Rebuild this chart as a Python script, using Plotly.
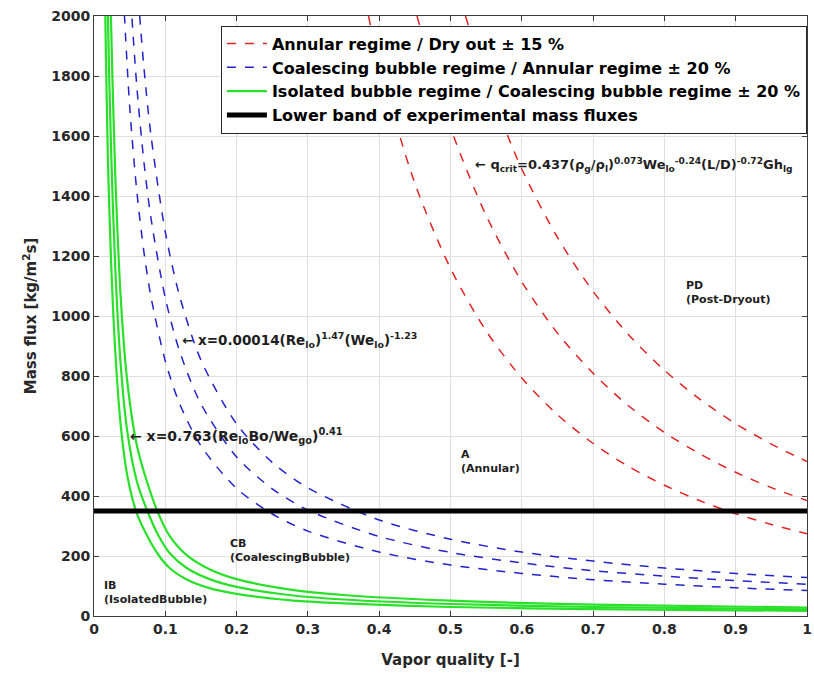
import plotly.graph_objects as go

# ---- Annular / Dry-out boundary (nominal and +/-15 %) ----
x_red_lo = [0.385, 0.40, 0.45, 0.50, 0.55, 0.60, 0.65, 0.70, 0.75, 0.80, 0.85, 0.90, 0.95, 1.00]
g_red_lo = [2000, 1843, 1442, 1159, 950, 793, 671, 575, 498, 436, 384, 341, 305, 274]
x_red_mid = [0.453, 0.50, 0.55, 0.60, 0.65, 0.70, 0.75, 0.80, 0.85, 0.90, 0.95, 1.00]
g_red_mid = [2000, 1628, 1335, 1114, 943, 809, 700, 612, 540, 479, 428, 385]
x_red_hi = [0.521, 0.55, 0.60, 0.65, 0.70, 0.75, 0.80, 0.85, 0.90, 0.95, 1.00]
g_red_hi = [2000, 1786, 1490, 1262, 1082, 937, 819, 722, 641, 573, 515]

# ---- Coalescing bubble / Annular boundary (nominal and +/-20 %) ----
x_blue = [0.04, 0.05, 0.06, 0.07, 0.08, 0.10, 0.12, 0.15, 0.20, 0.25, 0.30, 0.40, 0.50, 0.60, 0.70, 0.80, 0.90, 1.00]
g_blue_lo = [2125, 1700, 1417, 1214, 1063, 850, 708, 567, 425, 340, 283, 213, 170, 142, 121, 106, 94, 85]
g_blue_mid = [2650, 2120, 1767, 1514, 1325, 1060, 883, 707, 530, 424, 353, 265, 212, 177, 151, 133, 118, 106]
g_blue_hi = [3200, 2560, 2133, 1829, 1600, 1280, 1067, 853, 640, 512, 427, 320, 256, 213, 183, 160, 142, 128]

# ---- Isolated bubble / Coalescing bubble boundary (nominal and +/-20 %) ----
x_green = [0.012, 0.015, 0.0195, 0.024, 0.030, 0.038, 0.047, 0.060, 0.074, 0.090, 0.106, 0.130,
           0.162, 0.200, 0.273, 0.350, 0.500, 0.700, 1.000]
g_green_lo = [2860, 2135, 1520, 1180, 875, 623, 464, 342, 270, 205, 160, 122, 93, 74, 53, 42, 30, 23, 17]
g_green_mid = [3760, 2810, 2000, 1550, 1150, 820, 610, 450, 355, 270, 210, 160, 123, 97, 70, 55, 40, 30, 22]
g_green_hi = [4775, 3570, 2540, 1970, 1460, 1040, 775, 570, 450, 343, 267, 203, 156, 123, 89, 70, 51, 38, 28]

# ---- Lower band of experimental mass fluxes ----
x_band = [0.0, 1.0]
g_band = [350, 350]

x_ticks = [0, 0.1, 0.2, 0.3, 0.4, 0.5, 0.6, 0.7, 0.8, 0.9, 1]
y_ticks = [0, 200, 400, 600, 800, 1000, 1200, 1400, 1600, 1800, 2000]

RED = "rgb(225,35,35)"
BLUE = "rgb(35,35,205)"
GREEN = "rgb(40,225,40)"
FONT = "DejaVu Sans"

fig = go.Figure()

def add_curve(x, y, color, dash, width, name, group, show):
    fig.add_trace(go.Scatter(
        x=x, y=y, mode="lines", name=name, legendgroup=group, showlegend=show,
        line=dict(color=color, dash=dash, width=width, shape="spline", smoothing=0.8),
        hoverinfo="skip"))

add_curve(x_red_lo, g_red_lo, RED, "dash", 1.5, "Annular regime / Dry out \u00b1 15 %", "red", True)
add_curve(x_red_mid, g_red_mid, RED, "dash", 1.5, "", "red", False)
add_curve(x_red_hi, g_red_hi, RED, "dash", 1.5, "", "red", False)

add_curve(x_blue, g_blue_lo, BLUE, "dash", 1.5,
          "Coalescing bubble regime / Annular regime \u00b1 20 %", "blue", True)
add_curve(x_blue, g_blue_mid, BLUE, "dash", 1.5, "", "blue", False)
add_curve(x_blue, g_blue_hi, BLUE, "dash", 1.5, "", "blue", False)

add_curve(x_green, g_green_lo, GREEN, "solid", 2.2,
          "Isolated bubble regime / Coalescing bubble regime \u00b1 20 %", "green", True)
add_curve(x_green, g_green_mid, GREEN, "solid", 2.2, "", "green", False)
add_curve(x_green, g_green_hi, GREEN, "solid", 2.2, "", "green", False)

fig.add_trace(go.Scatter(
    x=x_band, y=g_band, mode="lines", name="Lower band of experimental mass fluxes",
    legendgroup="black", line=dict(color="black", width=5), hoverinfo="skip"))

TXT = "rgb(30,30,30)"
small_font = dict(family=FONT, size=11, color=TXT, weight="bold")

def ann_font(size):
    return dict(family=FONT, size=size, color=TXT, weight="bold")

annotations = [
    dict(x=0.532, y=1503,
         text="\u2190 q<sub>crit</sub>=0.437(\u03c1<sub>g</sub>/\u03c1<sub>l</sub>)<sup>0.073</sup>"
              "We<sub>lo</sub><sup>-0.24</sup>(L/D)<sup>-0.72</sup>Gh<sub>lg</sub>",
         font=ann_font(13)),
    dict(x=0.12, y=920,
         text="\u2190 x=0.00014(Re<sub>lo</sub>)<sup>1.47</sup>(We<sub>lo</sub>)<sup>-1.23</sup>",
         font=ann_font(13.5)),
    dict(x=0.047, y=600,
         text="\u2190 x=0.763(Re<sub>lo</sub>Bo/We<sub>go</sub>)<sup>0.41</sup>",
         font=ann_font(14)),
    dict(x=0.828, y=1080, text="PD<br>(Post-Dryout)", font=small_font),
    dict(x=0.512, y=515, text="A<br>(Annular)", font=small_font),
    dict(x=0.188, y=220, text="CB<br>(CoalescingBubble)", font=small_font),
    dict(x=0.011, y=77, text="IB<br>(IsolatedBubble)", font=small_font),
]
for a in annotations:
    fig.add_annotation(xref="x", yref="y", showarrow=False, xanchor="left",
                       yanchor="middle", align="left", **a)

axis_common = dict(
    showline=True, linecolor="rgb(60,60,60)", linewidth=1, mirror="allticks",
    ticks="inside", ticklen=5, tickcolor="rgb(60,60,60)",
    showgrid=True, gridcolor="rgb(224,224,224)", gridwidth=1, zeroline=False,
    tickfont=dict(family=FONT, size=14, color="rgb(40,40,40)", weight="bold"),
)

fig.update_layout(
    width=814, height=673,
    margin=dict(l=94, r=2, t=16, b=57),
    plot_bgcolor="white", paper_bgcolor="white",
    xaxis=dict(range=[0, 1], tickvals=x_ticks, ticktext=[f"{v:g}" for v in x_ticks],
               ticklabeloverflow="allow",
               title=dict(text="Vapor quality [-]", standoff=18,
                          font=dict(family=FONT, size=15, color="rgb(40,40,40)",
                                    weight="bold")),
               **axis_common),
    yaxis=dict(range=[0, 2000], tickvals=y_ticks,
               title=dict(text="Mass flux [kg/m<sup>2</sup>s]", standoff=10,
                          font=dict(family=FONT, size=15, color="rgb(40,40,40)",
                                    weight="bold")),
               **axis_common),
    legend=dict(x=0.178, y=0.984, xanchor="left", yanchor="top",
                bgcolor="white", bordercolor="rgb(40,40,40)", borderwidth=1,
                font=dict(family=FONT, size=16, color="black", weight="bold"),
                tracegroupgap=0, itemwidth=40),
    showlegend=True,
)

fig.write_html("out.html")
